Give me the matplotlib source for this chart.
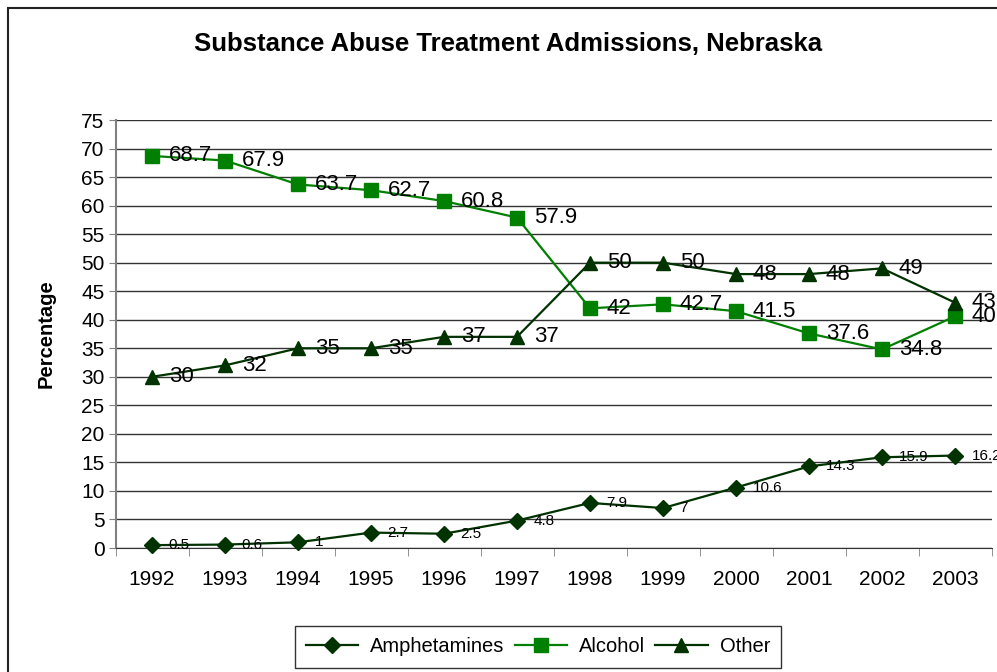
import matplotlib
matplotlib.use('Agg')
from matplotlib import pyplot as plt
from matplotlib.patches import Rectangle

plt.rcParams['font.family'] = ['Liberation Sans', 'DejaVu Sans']

years = ['1992', '1993', '1994', '1995', '1996', '1997',
         '1998', '1999', '2000', '2001', '2002', '2003']
amphetamines = [0.5, 0.6, 1, 2.7, 2.5, 4.8, 7.9, 7, 10.6, 14.3, 15.9, 16.2]
alcohol = [68.7, 67.9, 63.7, 62.7, 60.8, 57.9, 42, 42.7, 41.5, 37.6, 34.8, 40.6]
other = [30, 32, 35, 35, 37, 37, 50, 50, 48, 48, 49, 43]

dark_green = '#003300'
green = '#008000'

fig = plt.figure(figsize=(9.97, 6.72), dpi=100)
# chart outline (the right and bottom edges fall outside the image)
fig.patches.append(Rectangle((8 / 997, -0.05), 1.1, 1 - 8 / 672 + 0.05,
                             transform=fig.transFigure, fill=False,
                             edgecolor='#222222', linewidth=1.5))

ax = fig.add_axes([115.5 / 997, 124 / 672, 876 / 997, 428 / 672])
x = list(range(len(years)))

series = [
    ('Amphetamines', amphetamines, dark_green, 'D', 8, 11),
    ('Alcohol', alcohol, green, 's', 10, 16),
    ('Other', other, dark_green, '^', 10, 16),
]
for name, values, color, marker, msize, fsize in series:
    ax.plot(x, values, color=color, marker=marker, markersize=msize,
            linewidth=1.6, label=name, clip_on=False, zorder=3)
    for xi, v in zip(x, values):
        ax.annotate(f'{v:g}', (xi, v), xytext=(12, 0), textcoords='offset points',
                    ha='left', va='center', fontsize=fsize, color='black',
                    annotation_clip=False, zorder=4)

ax.set_xlim(-0.5, len(years) - 0.5)
ax.set_ylim(0, 75)
ax.set_yticks(range(0, 80, 5))
ax.set_xticks(x)
ax.set_xticklabels(years)
ax.set_xticks([i - 0.5 for i in range(len(years) + 1)], minor=True)
ax.tick_params(axis='x', which='major', length=0, labelsize=15, pad=16)
ax.tick_params(axis='x', which='minor', length=6, color='#808080')
ax.tick_params(axis='y', length=5, color='#808080', labelsize=15, pad=3)
ax.yaxis.grid(True, color='#333333', linewidth=1)
ax.set_axisbelow(True)
for side in ('top', 'right'):
    ax.spines[side].set_visible(False)
ax.spines['left'].set_color('#808080')
ax.spines['left'].set_linewidth(1.5)
ax.spines['bottom'].set_color('#333333')

ax.set_ylabel('Percentage', fontsize=14.5, fontweight='bold', labelpad=18)
fig.text(508 / 997, 1 - 44 / 672, 'Substance Abuse Treatment Admissions, Nebraska',
         ha='center', va='center', fontsize=18.5, fontweight='bold')

leg = fig.legend(loc='center', bbox_to_anchor=(538 / 997, 1 - 647 / 672), ncol=3,
                 fontsize=14.5, frameon=True, fancybox=False, handlelength=2.6,
                 columnspacing=0.5, handletextpad=0.6, borderpad=0.55,
                 borderaxespad=0)
leg.get_frame().set_edgecolor('black')
leg.get_frame().set_linewidth(1)

fig.savefig('out.png', dpi=100)
